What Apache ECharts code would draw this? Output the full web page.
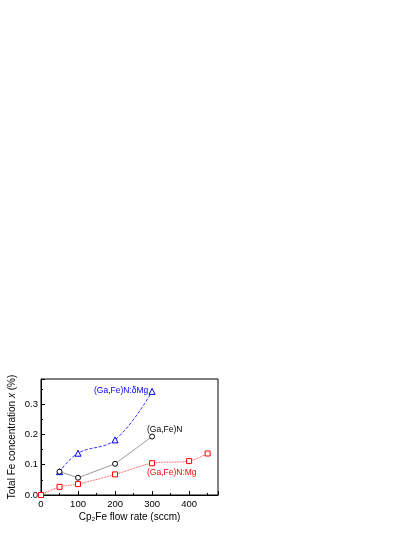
<!DOCTYPE html><html><head><meta charset="utf-8">
<script src="https://cdn.jsdelivr.net/npm/echarts@6/dist/echarts.min.js"></script>
<style>html,body{margin:0;background:#fff}#c{width:415px;height:537px}</style></head><body><div id="c"></div>
<script>
const deltaMg = [[50,0.077],[100,0.138],[200,0.182],[300,0.342]];
const pure = [[50,0.077],[100,0.057],[200,0.103],[300,0.193]];
const mg = [[0,0],[50,0.027],[100,0.036],[200,0.068],[300,0.105],[400,0.112],[450,0.137]];
const F = 'Liberation Sans, Arial, sans-serif';
const ch = echarts.init(document.getElementById('c'));
const ax = {axisLine:{show:true,lineStyle:{color:'#000'}},axisTick:{inside:true,length:4,lineStyle:{color:'#000'}},
 minorTick:{show:true,splitNumber:2,length:2,lineStyle:{color:'#000'}},splitLine:{show:false},
 axisLabel:{color:'#000',fontSize:9.5,fontFamily:F}};
ch.setOption({animation:false,
 grid:{left:41,right:197,top:379,bottom:42,show:true,borderColor:'#000',borderWidth:1,backgroundColor:'transparent'},
 xAxis:Object.assign({type:'value',min:0,max:478,interval:100,name:'Cp\u2082Fe flow rate (sccm)',nameLocation:'middle',nameGap:17,
   nameTextStyle:{fontSize:10,fontFamily:F,color:'#000'}},ax,{axisLabel:Object.assign({},ax.axisLabel,{margin:4,formatter:v=>v<=400?v:''})}),
 yAxis:Object.assign({type:'value',min:0,max:0.383,interval:0.1,name:'{n|Total Fe concentration }{i|x}{n| (%)}',nameLocation:'middle',nameGap:24,
   nameTextStyle:{rich:{n:{fontSize:10,fontFamily:F,color:'#000'},i:{fontSize:10,fontFamily:F,color:'#000',fontStyle:'italic'}}}},ax,
   {axisLabel:Object.assign({},ax.axisLabel,{margin:3,formatter:v=>v>0.35?'':v.toFixed(1)})}),
 series:[
  {type:'line',data:deltaMg,smooth:0.4,symbol:'triangle',symbolSize:6,itemStyle:{color:'#fff',borderColor:'#00f',borderWidth:1},lineStyle:{color:'#00f',width:0.8,type:'dashed'}},
  {type:'line',data:pure,symbol:'circle',symbolSize:5,itemStyle:{color:'#fff',borderColor:'#000',borderWidth:1},lineStyle:{color:'#555',width:0.6}},
  {type:'line',data:mg,smooth:0.3,symbol:'rect',symbolSize:5,itemStyle:{color:'#fff',borderColor:'#f00',borderWidth:1},lineStyle:{color:'#f00',width:0.8,type:'dotted'}}
 ],
 graphic:[
  {type:'text',left:94,top:386,style:{text:'(Ga,Fe)N:δMg',fill:'#00f',font:'8.5px '+F}},
  {type:'text',left:147,top:425,style:{text:'(Ga,Fe)N',fill:'#000',font:'8.5px '+F}},
  {type:'text',left:147,top:468,style:{text:'(Ga,Fe)N:Mg',fill:'#f00',font:'8.5px '+F}}
 ]});
</script></body></html>
